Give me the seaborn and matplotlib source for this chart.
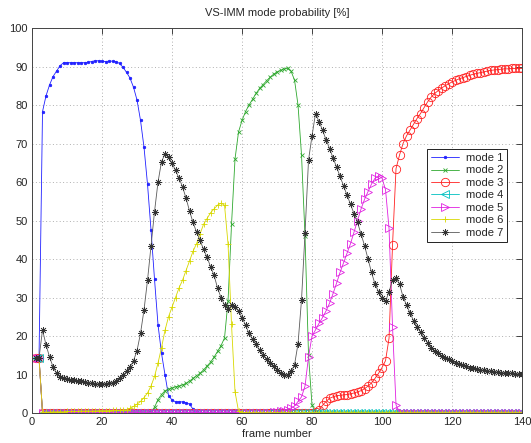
import matplotlib
matplotlib.use("Agg")
import matplotlib.pyplot as plt
import seaborn as sns

# frame index and the seven mode probabilities [%]
frames = list(range(1, 141))

mode1 = [14.3, 14.3, 78.3, 82.4, 85.2, 87.4, 88.8, 90.2, 91.0, 91.0,
         91.0, 91.0, 91.0, 91.0, 91.0, 91.1, 91.3, 91.5, 91.5, 91.4,
         91.3, 91.4, 91.4, 91.3, 90.8, 89.8, 88.5, 87.0, 84.6, 81.3,
         76.0, 69.0, 59.4, 47.5, 34.7, 22.9, 15.5, 9.9, 4.5, 3.4,
         2.9, 2.9, 2.9, 2.7, 2.3, 1.0, 0.3, 0.1, 0.1, 0.1,
         0.1, 0.1, 0.1, 0.1, 0.1, 0.1, 0.1, 0.1, 0.1, 0.1,
         0.1, 0.1, 0.1, 0.1, 0.1, 0.1, 0.1, 0.1, 0.1, 0.1,
         0.1, 0.1, 0.1, 0.1, 0.1, 0.1, 0.1, 0.1, 0.1, 0.1,
         0.1, 0.1, 0.1, 0.1, 0.1, 0.1, 0.1, 0.1, 0.1, 0.1,
         0.1, 0.1, 0.1, 0.1, 0.1, 0.1, 0.1, 0.1, 0.1, 0.1,
         0.1, 0.1, 0.1, 0.1, 0.1, 0.1, 0.1, 0.1, 0.1, 0.1,
         0.1, 0.1, 0.1, 0.1, 0.1, 0.1, 0.1, 0.1, 0.1, 0.1,
         0.1, 0.1, 0.1, 0.1, 0.1, 0.1, 0.1, 0.1, 0.1, 0.1,
         0.1, 0.1, 0.1, 0.1, 0.1, 0.1, 0.1, 0.1, 0.1, 0.1]

mode2 = [14.3, 14.3, 0.2, 0.1, 0.1, 0.1, 0.1, 0.1, 0.1, 0.1,
         0.1, 0.1, 0.1, 0.1, 0.1, 0.1, 0.1, 0.1, 0.1, 0.1,
         0.1, 0.1, 0.1, 0.1, 0.1, 0.1, 0.1, 0.1, 0.1, 0.1,
         0.1, 0.1, 0.2, 0.3, 1.5, 3.5, 4.8, 5.8, 6.2, 6.5,
         6.8, 7.0, 7.3, 7.7, 8.3, 9.0, 9.7, 10.3, 11.2, 12.2,
         13.2, 14.5, 16.0, 17.5, 19.5, 29.0, 49.0, 66.0, 73.0, 76.0,
         78.3, 80.0, 81.5, 83.0, 84.3, 85.3, 86.3, 87.2, 88.0, 88.6,
         89.0, 89.4, 89.5, 88.8, 86.5, 80.0, 67.0, 46.0, 15.0, 2.0,
         0.3, 0.1, 0.1, 0.1, 0.1, 0.1, 0.1, 0.1, 0.1, 0.1,
         0.1, 0.1, 0.1, 0.1, 0.1, 0.1, 0.1, 0.1, 0.1, 0.1,
         0.1, 0.1, 0.1, 0.1, 0.1, 0.1, 0.1, 0.1, 0.1, 0.1,
         0.1, 0.1, 0.1, 0.1, 0.1, 0.1, 0.1, 0.1, 0.1, 0.1,
         0.1, 0.1, 0.1, 0.1, 0.1, 0.1, 0.1, 0.1, 0.1, 0.1,
         0.1, 0.1, 0.1, 0.1, 0.1, 0.1, 0.1, 0.1, 0.1, 0.1]

mode3 = [14.3, 14.3, 0.1, 0.1, 0.1, 0.1, 0.1, 0.1, 0.1, 0.1,
         0.1, 0.1, 0.1, 0.1, 0.1, 0.1, 0.1, 0.1, 0.1, 0.1,
         0.1, 0.1, 0.1, 0.1, 0.1, 0.1, 0.1, 0.1, 0.1, 0.1,
         0.1, 0.1, 0.1, 0.1, 0.1, 0.1, 0.1, 0.1, 0.1, 0.1,
         0.1, 0.1, 0.1, 0.1, 0.1, 0.1, 0.1, 0.1, 0.1, 0.1,
         0.1, 0.1, 0.1, 0.1, 0.1, 0.1, 0.1, 0.1, 0.1, 0.1,
         0.1, 0.1, 0.1, 0.1, 0.1, 0.1, 0.1, 0.1, 0.1, 0.1,
         0.1, 0.1, 0.1, 0.1, 0.1, 0.1, 0.1, 0.1, 0.1, 0.1,
         0.3, 0.8, 2.0, 3.0, 3.8, 4.2, 4.5, 4.6, 4.7, 4.8,
         5.0, 5.2, 5.5, 5.8, 6.3, 7.0, 7.8, 9.0, 10.3, 11.8,
         13.6, 19.4, 43.6, 63.5, 67.0, 70.0, 72.0, 73.5, 75.0, 76.5,
         77.8, 79.3, 80.8, 82.0, 83.0, 83.7, 84.4, 85.0, 85.5, 86.0,
         86.4, 86.8, 87.1, 87.4, 87.7, 88.0, 88.2, 88.4, 88.6, 88.8,
         89.0, 89.1, 89.2, 89.3, 89.4, 89.4, 89.5, 89.5, 89.5, 89.5]

mode4 = [14.3, 14.3, 0.1, 0.1, 0.1, 0.1, 0.1, 0.1, 0.1, 0.1,
         0.1, 0.1, 0.1, 0.1, 0.1, 0.1, 0.1, 0.1, 0.1, 0.1,
         0.1, 0.1, 0.1, 0.1, 0.1, 0.1, 0.1, 0.1, 0.1, 0.1,
         0.1, 0.1, 0.1, 0.1, 0.1, 0.1, 0.1, 0.1, 0.1, 0.1,
         0.1, 0.1, 0.1, 0.1, 0.1, 0.1, 0.1, 0.1, 0.1, 0.1,
         0.1, 0.1, 0.1, 0.1, 0.1, 0.1, 0.1, 0.1, 0.1, 0.1,
         0.1, 0.1, 0.1, 0.1, 0.1, 0.1, 0.1, 0.1, 0.1, 0.1,
         0.1, 0.1, 0.1, 0.1, 0.1, 0.1, 0.1, 0.1, 0.1, 0.1,
         0.1, 0.1, 0.1, 0.1, 0.1, 0.1, 0.1, 0.1, 0.1, 0.1,
         0.1, 0.1, 0.1, 0.1, 0.1, 0.1, 0.1, 0.1, 0.1, 0.1,
         0.1, 0.1, 0.1, 0.1, 0.1, 0.1, 0.1, 0.1, 0.1, 0.1,
         0.1, 0.1, 0.1, 0.1, 0.1, 0.1, 0.1, 0.1, 0.1, 0.1,
         0.1, 0.1, 0.1, 0.1, 0.1, 0.1, 0.1, 0.1, 0.1, 0.1,
         0.1, 0.1, 0.1, 0.1, 0.1, 0.1, 0.1, 0.1, 0.1, 0.1]

mode5 = [14.3, 14.3, 0.1, 0.1, 0.1, 0.1, 0.1, 0.1, 0.1, 0.1,
         0.1, 0.1, 0.1, 0.1, 0.1, 0.1, 0.1, 0.1, 0.1, 0.1,
         0.1, 0.1, 0.1, 0.1, 0.1, 0.1, 0.1, 0.1, 0.1, 0.1,
         0.1, 0.1, 0.1, 0.1, 0.1, 0.1, 0.1, 0.1, 0.1, 0.1,
         0.1, 0.1, 0.1, 0.1, 0.1, 0.1, 0.1, 0.1, 0.1, 0.1,
         0.1, 0.1, 0.1, 0.1, 0.1, 0.1, 0.1, 0.1, 0.1, 0.1,
         0.1, 0.1, 0.1, 0.1, 0.1, 0.1, 0.1, 0.1, 0.2, 0.3,
         0.4, 0.6, 0.9, 1.3, 1.8, 3.0, 4.2, 7.0, 14.6, 20.0,
         21.6, 23.3, 24.8, 26.5, 28.5, 31.0, 33.7, 36.5, 39.0, 41.5,
         44.0, 47.0, 50.0, 53.0, 55.5, 57.5, 59.5, 61.0, 61.6, 61.0,
         58.0, 48.0, 22.4, 2.1, 0.2, 0.1, 0.1, 0.1, 0.1, 0.1,
         0.1, 0.1, 0.1, 0.1, 0.1, 0.1, 0.1, 0.1, 0.1, 0.1,
         0.1, 0.1, 0.1, 0.1, 0.1, 0.1, 0.1, 0.1, 0.1, 0.1,
         0.1, 0.1, 0.1, 0.1, 0.1, 0.1, 0.1, 0.1, 0.1, 0.1]

mode6 = [14.3, 14.3, 0.2, 0.2, 0.2, 0.3, 0.3, 0.3, 0.3, 0.4,
         0.4, 0.4, 0.4, 0.5, 0.5, 0.5, 0.5, 0.5, 0.6, 0.6,
         0.6, 0.6, 0.7, 0.7, 0.7, 0.8, 0.8, 1.2, 1.7, 2.3,
         3.0, 4.0, 5.2, 7.0, 9.5, 13.0, 17.0, 21.5, 25.0, 27.5,
         30.0, 32.5, 34.5, 37.0, 39.5, 42.0, 44.0, 46.5, 49.0, 50.5,
         52.0, 53.0, 54.0, 54.5, 54.0, 44.0, 23.0, 5.5, 0.5, 0.2,
         0.1, 0.1, 0.1, 0.1, 0.1, 0.1, 0.1, 0.1, 0.1, 0.1,
         0.1, 0.1, 0.1, 0.1, 0.1, 0.1, 0.1, 0.1, 0.1, 0.1,
         0.1, 0.1, 0.1, 0.1, 0.1, 0.1, 0.1, 0.1, 0.1, 0.1,
         0.1, 0.1, 0.1, 0.1, 0.1, 0.1, 0.1, 0.1, 0.1, 0.1,
         0.1, 0.1, 0.1, 0.1, 0.1, 0.1, 0.1, 0.1, 0.1, 0.1,
         0.1, 0.1, 0.1, 0.1, 0.1, 0.1, 0.1, 0.1, 0.1, 0.1,
         0.1, 0.1, 0.1, 0.1, 0.1, 0.1, 0.1, 0.1, 0.1, 0.1,
         0.1, 0.1, 0.1, 0.1, 0.1, 0.1, 0.1, 0.1, 0.1, 0.1]

mode7 = [14.3, 14.3, 21.6, 17.7, 14.6, 12.0, 10.3, 9.4, 9.0, 8.8,
         8.6, 8.5, 8.4, 8.2, 8.0, 7.8, 7.7, 7.6, 7.5, 7.5,
         7.6, 7.7, 7.9, 8.4, 9.0, 9.8, 10.8, 12.0, 13.6, 16.2,
         20.7, 26.8, 34.5, 43.5, 52.3, 60.0, 65.3, 67.3, 66.6, 64.9,
         63.0, 61.0, 58.8, 55.8, 52.5, 49.5, 47.0, 44.9, 42.5, 40.5,
         38.0, 35.8, 32.5, 30.0, 28.0, 27.0, 28.0, 27.5, 26.5, 24.8,
         22.8, 20.7, 19.2, 17.8, 16.3, 15.0, 13.9, 12.9, 12.1, 11.2,
         10.5, 10.0, 9.9, 10.8, 12.5, 18.0, 29.4, 46.7, 65.7, 72.0,
         77.8, 75.7, 73.5, 71.0, 68.7, 66.3, 63.9, 61.5, 59.0, 56.6,
         54.2, 51.8, 49.5, 46.5, 43.5, 40.0, 36.5, 33.5, 31.5, 29.8,
         29.0, 31.5, 34.5, 35.0, 33.5, 30.2, 28.0, 26.0, 24.0, 22.4,
         21.0, 19.6, 18.2, 17.0, 16.2, 15.5, 14.9, 14.4, 13.9, 13.5,
         13.1, 12.7, 12.4, 12.1, 11.8, 11.6, 11.4, 11.2, 11.1, 10.9,
         10.8, 10.7, 10.6, 10.5, 10.4, 10.3, 10.3, 10.2, 10.1, 10.1]

labels = ["mode 1", "mode 2", "mode 3", "mode 4", "mode 5", "mode 6", "mode 7"]
series = [mode1, mode2, mode3, mode4, mode5, mode6, mode7]

# matlab-ish look: plain white axes, dotted grid, ticks pointing in
sns.set_style("white")
plt.rcParams["font.family"] = ["Liberation Sans", "DejaVu Sans"]
plt.rcParams["font.size"] = 8

colors = ["#2020ff", "#2ea82e", "#ff2020", "#00c0c0", "#e020e0", "#d8d800", "#5a5a5a"]
edge = ["#2020ff", "#2ea82e", "#ff2020", "#00c0c0", "#e020e0", "#d8d800", "#333333"]
# '.' is a filled dot in matlab, (8, 2, 0) gives an 8-armed asterisk like matlab's '*'
markers = [".", "x", "o", "<", ">", "+", (8, 2, 0)]
msizes = [3.5, 3.5, 6.0, 5.5, 5.5, 5.0, 5.0]
mew = [0.6, 0.6, 0.6, 0.6, 0.6, 0.6, 0.5]
filled = [True, False, False, False, False, False, False]

fig = plt.figure(figsize=(5.31, 4.43), dpi=100)
ax = fig.add_axes([0.0603, 0.0677, 0.9228, 0.869])

for vals, lab, c, e, m, ms, w, f in zip(series, labels, colors, edge, markers, msizes, mew, filled):
    sns.lineplot(x=frames, y=vals, ax=ax, color=c, marker=m, markersize=ms,
                 markerfacecolor=(c if f else "none"), markeredgecolor=e,
                 markeredgewidth=w, linewidth=0.6, label=lab)

ax.set_xlim(0, 140)
ax.set_ylim(0, 100)
ax.set_xticks(range(0, 141, 20))
ax.set_yticks(range(0, 101, 10))
ax.grid(True, linestyle=(0, (1, 2.5)), color="#b0b0b0", linewidth=0.7)
ax.tick_params(direction="in", top=True, right=True, length=4, width=0.6, pad=3)
for s in ax.spines.values():
    s.set_linewidth(0.7)
    s.set_color("#444444")

ax.set_title("VS-IMM mode probability [%]", fontsize=8, pad=9)
ax.set_xlabel("frame number", fontsize=8, labelpad=1)
ax.set_ylabel("")

leg = ax.legend(loc="upper left", bbox_to_anchor=(0.794, 0.70), fontsize=8,
                frameon=True, fancybox=False, framealpha=1, edgecolor="#222222",
                handlelength=2.6, borderpad=0.35, labelspacing=0.22, handletextpad=0.6)
leg.get_frame().set_linewidth(0.7)

fig.savefig("out.png", dpi=100)
